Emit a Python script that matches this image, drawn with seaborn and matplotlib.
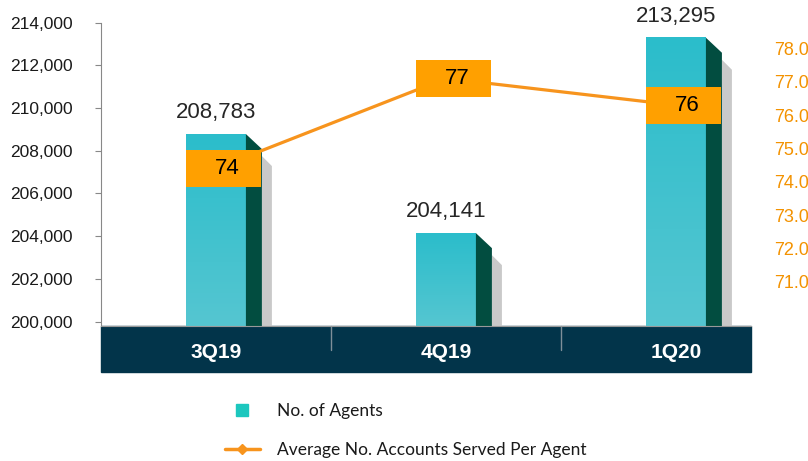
import numpy as np
import pandas as pd
import seaborn as sns
import matplotlib.pyplot as plt
import matplotlib.transforms as mtransforms
from matplotlib.patches import Rectangle, Polygon
from matplotlib.lines import Line2D
from matplotlib.colors import LinearSegmentedColormap

# data
quarters = ["3Q19", "4Q19", "1Q20"]
agents = [208783, 204141, 213295]
accounts = [74.4, 77.1, 76.3]
left_ticks = list(range(200000, 214001, 2000))
right_ticks = list(range(71, 79))

teal_top = "#2BBDCB"
teal_bottom = "#55C6D1"
side_col = "#024D40"
shadow_col = "#C9C9C9"
band_col = "#02344A"
line_col = "#F7941D"
box_col = "#FFA000"

sns.set_style("white")
plt.rcParams['font.family'] = ['Liberation Sans', 'DejaVu Sans']

fig = plt.figure(figsize=(8.08, 4.61), dpi=100)
ax = fig.add_axes([101 / 808, 1 - 326 / 461, 650 / 808, (326 - 22.7) / 461])

df = pd.DataFrame({"quarter": quarters, "agents": agents, "accounts": accounts})
sns.barplot(data=df, x="quarter", y="agents", width=0.26, color=teal_top,
            saturation=1, ax=ax, zorder=3)
xlim = (-0.5, 2.326)
ylim = (199790, 214000)
ax.set_xlim(*xlim)
ax.set_ylim(*ylim)

# pixel -> data conversions for the fake 3D pieces
dxp = (xlim[1] - xlim[0]) / 650
dyp = (ylim[1] - ylim[0]) / 303.3
bottom = ylim[0]

cmap = LinearSegmentedColormap.from_list("bar", [teal_bottom, teal_top])
grad = np.linspace(0, 1, 100).reshape(-1, 1)
for p in ax.patches:
    x0 = p.get_x()
    x1 = x0 + p.get_width()
    top = p.get_y() + p.get_height()
    ax.imshow(grad, extent=[x0, x1, bottom, top], origin='lower', aspect='auto',
              cmap=cmap, zorder=3.5)
    side = [(x1, bottom), (x1, top), (x1 + 16 * dxp, top - 15 * dyp), (x1 + 16 * dxp, bottom)]
    shadow = [(x1 + 16 * dxp, top - 22 * dyp), (x1 + 26 * dxp, top - 32 * dyp),
              (x1 + 26 * dxp, bottom), (x1 + 16 * dxp, bottom)]
    ax.add_patch(Polygon(shadow, closed=True, color=shadow_col, lw=0, zorder=2))
    ax.add_patch(Polygon(side, closed=True, color=side_col, lw=0, zorder=3.6))
ax.set_xlim(*xlim)
ax.set_ylim(*ylim)

ax.bar_label(ax.containers[0], labels=[f"{v:,}" for v in agents], padding=8,
             fontsize=16, color="#262626")

# dark category band under the plot (axis sits at zorder 0.5 in this style)
band_h = 46 / 303.3
ax.add_patch(Rectangle((0, -band_h), 1, band_h, transform=ax.transAxes,
                       color=band_col, clip_on=False, zorder=0.2))
blend = mtransforms.blended_transform_factory(ax.transData, ax.transAxes)
for xd in [0.5, 1.5]:
    ax.plot([xd, xd], [0, -24 / 303.3], transform=blend, color="#7F8F99",
            lw=1, clip_on=False, zorder=0.3)

ax.set_xticks(range(len(quarters)), quarters)
ax.tick_params(axis='x', length=0, pad=12, labelcolor='white', labelsize=15)
for lbl in ax.get_xticklabels():
    lbl.set_fontweight('bold')
ax.set_yticks(left_ticks)
ax.yaxis.set_major_formatter('{x:,.0f}')
ax.tick_params(axis='y', left=True, length=4.3, color='#888888', width=0.8,
               pad=16, labelsize=12.5, labelcolor='#1A1A1A')
ax.set_xlabel('')
ax.set_ylabel('')
for s in ['top', 'right']:
    ax.spines[s].set_visible(False)
ax.spines['left'].set_color('#888888')
ax.spines['left'].set_linewidth(0.8)
ax.spines['bottom'].set_color('#999999')
ax.spines['bottom'].set_zorder(4)

# line on the secondary axis
ax2 = ax.twinx()
sns.lineplot(x=np.arange(len(quarters)), y=accounts, ax=ax2, color=line_col, lw=2.3)
ax2.set_ylim(69.68, 78.77)
ax2.set_yticks(right_ticks)
ax2.yaxis.set_major_formatter('{x:.1f}')
ax2.tick_params(axis='y', length=0, pad=17, labelcolor='#F39200', labelsize=13)
ax2.set_ylabel('')
for s in ax2.spines.values():
    s.set_visible(False)

for i, v in enumerate(accounts):
    tr = fig.dpi_scale_trans + mtransforms.ScaledTranslation(i, v, ax2.transData)
    ax2.add_patch(Rectangle((-0.30, -0.185), 0.75, 0.37, transform=tr,
                            color=box_col, lw=0, zorder=5, clip_on=False))
    ax2.text(0.11, 0, f"{v:.0f}", transform=tr, ha='center', va='center',
             fontsize=16, color='black', zorder=6)

handles = [
    Line2D([], [], marker='s', ls='none', color='#1CC7BE', ms=8),
    Line2D([], [], color=line_col, lw=2.5, marker='D', ms=5),
]
fig.legend(handles, ["No. of Agents", "Average No. Accounts Served Per Agent"],
           loc='upper left', bbox_to_anchor=(225 / 808, 1 - 403 / 461),
           frameon=False, prop={'family': 'Lato', 'size': 12.5},
           handlelength=2, handletextpad=1.0, labelspacing=1.35,
           borderpad=0, borderaxespad=0, labelcolor='#1A1A1A')

fig.savefig('out.png', dpi=100)
